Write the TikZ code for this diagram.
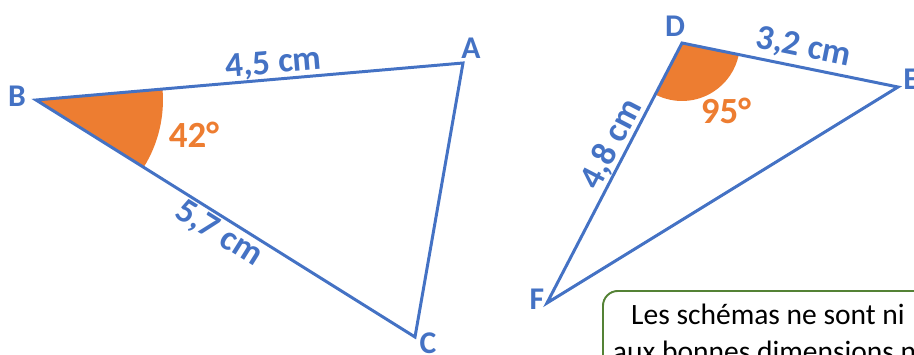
\documentclass[tikz,border=0pt]{standalone}
\usepackage{fontspec}
\setmainfont{Carlito}
\usepackage{xcolor}
\usepackage{tikz}
\usetikzlibrary{angles,positioning}
\definecolor{triblue}{HTML}{4472C4}
\definecolor{angorange}{HTML}{ED7D31}
\definecolor{notegreen}{HTML}{548235}

\begin{document}
\begin{tikzpicture}[x=0.02cm, y=0.02cm,
  side/.style={draw=triblue, line width=1.7pt},
  sect/.style={fill=angorange, draw=none},
  vlab/.style={text=triblue, font=\fontsize{18}{21}\selectfont\bfseries, inner sep=0pt},
  len/.style={text=triblue, font=\fontsize{20}{24}\selectfont\bfseries, sloped, inner xsep=0pt},
  ang/.style={text=angorange, font=\fontsize{21}{25}\selectfont\bfseries, inner sep=0pt},
  note/.style={draw=notegreen, line width=1.1pt, rounded corners=8.5pt, fill=white, minimum width=6.6cm, align=center, inner xsep=0.2cm, inner ysep=0.26cm, font=\fontsize{16.8}{21}\selectfont, anchor=north west}
]
\useasboundingbox (0,0) rectangle (914,-355);
\clip (0,0) rectangle (914,-355);
% ---- triangle ABC
\coordinate (B) at (36,-100);
\coordinate (A) at (463,-63);
\coordinate (C) at (415,-337);
\pic[sect, angle radius=2.54cm] {angle=C--B--A};
\draw[side] (B) -- (A) -- (C) -- cycle;
\path (B) -- node[len, pos=.56, anchor=south, inner ysep=0.5pt] (l45) {4,5 cm} (A);
\path (B) -- node[len, pos=.505, anchor=north, inner ysep=1.5pt] (l57) {5,7 cm} (C);
\node[ang] (a42) at (194,-135) {42°};
\node[vlab] (lB) at (17,-96) {B};
\node[vlab] (lA) at (471,-48) {A};
\node[vlab] (lC) at (428,-343) {C};
% ---- triangle DEF
\coordinate (D) at (682,-43);
\coordinate (E) at (898,-87);
\coordinate (F) at (547,-303);
\pic[sect, angle radius=1.16cm] {angle=F--D--E};
\draw[side] (D) -- (E) -- (F) -- cycle;
\path (D) -- node[len, pos=.544, anchor=south, inner ysep=3pt] (l32) {3,2 cm} (E);
\path (F) -- node[len, pos=.583, anchor=south, inner ysep=0.5pt] (l48) {4,8 cm} (D);
\node[ang] (a95) at (726,-111) {95°};
\node[vlab] (lD) at (675,-26) {D};
\node[vlab] (lE) at (911,-79) {E};
\node[vlab] (lF) at (537,-299) {F};
% ---- note
\node[note] (note) at (602,-290) {Les schémas ne sont ni\\aux bonnes dimensions ni};
\end{tikzpicture}
\end{document}
